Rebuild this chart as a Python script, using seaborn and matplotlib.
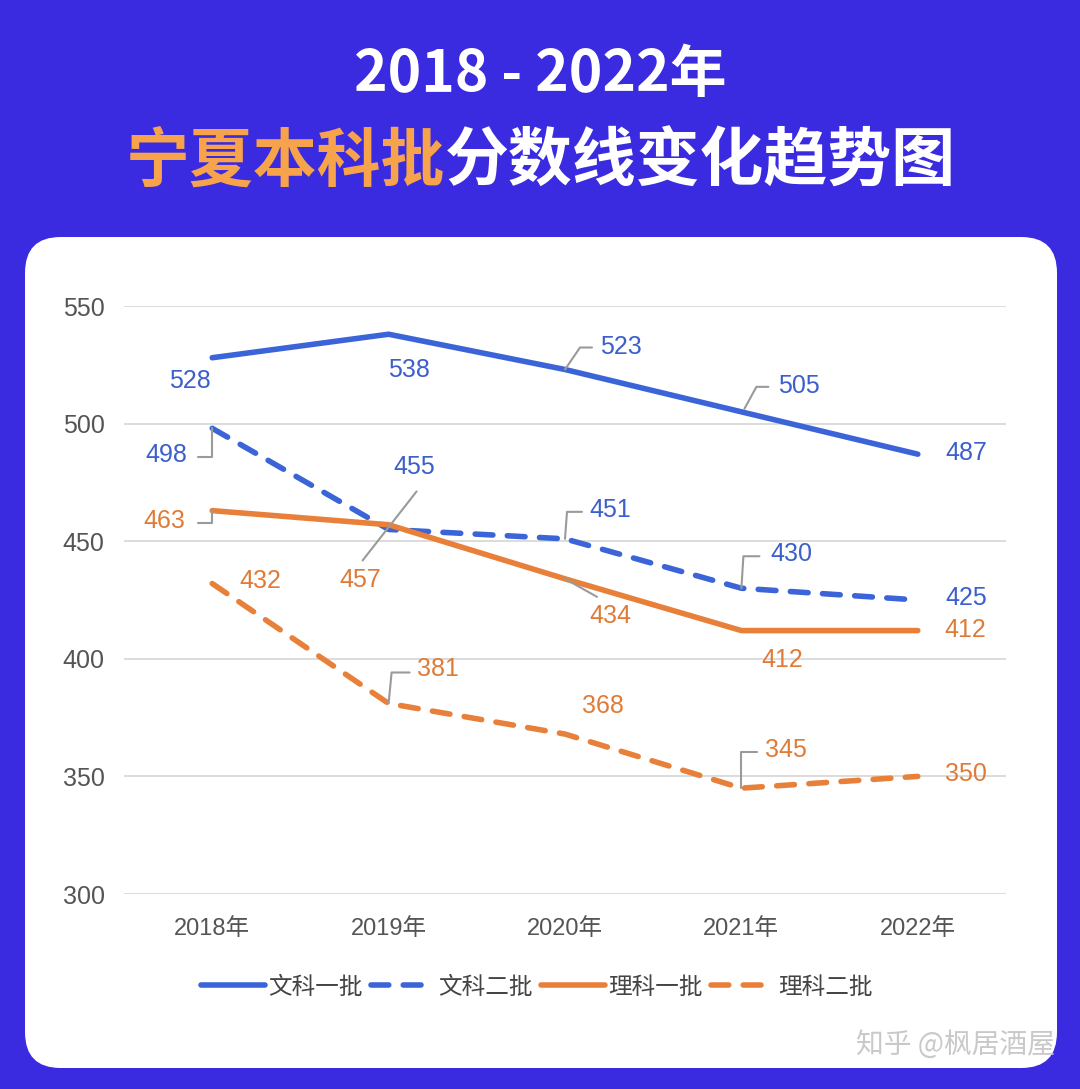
import matplotlib
matplotlib.use("Agg")
import matplotlib.pyplot as plt
from matplotlib.patches import FancyBboxPatch
from matplotlib.lines import Line2D
from matplotlib.transforms import IdentityTransform
import pandas as pd
import seaborn as sns

# data
years = ["2018年", "2019年", "2020年", "2021年", "2022年"]
series = ["文科一批", "文科二批", "理科一批", "理科二批"]
wenke1 = [528, 538, 523, 505, 487]
wenke2 = [498, 455, 451, 430, 425]
like1 = [463, 457, 434, 412, 412]
like2 = [432, 381, 368, 345, 350]
yticks = [300, 350, 400, 450, 500, 550]

df = pd.DataFrame({
    "year": years * 4,
    "score": wenke1 + wenke2 + like1 + like2,
    "series": [s for s in series for _ in years],
})

BLUE = "#3a64d8"
ORANGE = "#e8803a"
BLUE_TXT = "#3b5fcc"
ORANGE_TXT = "#e07b37"
BG = "#3a2be0"

sns.set_style("white")
plt.rcParams["font.family"] = ["Liberation Sans", "Noto Sans CJK SC", "DejaVu Sans"]

fig = plt.figure(figsize=(10.8, 10.89), dpi=100, facecolor=BG)

# white rounded card
card = FancyBboxPatch((25 / 1080, 1 - 1068 / 1089), 1032 / 1080, 831 / 1089,
                      boxstyle="round,pad=0,rounding_size=0.033",
                      transform=fig.transFigure, fc="white", ec="none", zorder=-1)
fig.add_artist(card)

# title
cjk = ["Noto Sans CJK SC", "DejaVu Sans"]
fig.text(0.5, 1 - 75 / 1089, "2018 - 2022年", ha="center", va="center",
         fontsize=41, color="white", fontweight="bold", family=cjk)
fig.text(0.412, 1 - 162 / 1089, "宁夏本科批", ha="right", va="center",
         fontsize=46, color="#f7a34c", fontweight="bold", family=cjk)
fig.text(0.412, 1 - 162 / 1089, "分数线变化趋势图", ha="left", va="center",
         fontsize=46, color="white", fontweight="bold", family=cjk)

ax = fig.add_axes([124 / 1080, 1 - 894 / 1089, 882 / 1080, 588 / 1089])
ax.set_facecolor("none")

sns.lineplot(data=df, x="year", y="score", hue="series", style="series",
             palette={series[0]: BLUE, series[1]: BLUE, series[2]: ORANGE, series[3]: ORANGE},
             dashes={series[0]: "", series[1]: (3.2, 2.6), series[2]: "", series[3]: (3.2, 2.6)},
             linewidth=4, sort=False, legend=False, ax=ax,
             solid_capstyle="round", dash_capstyle="round")
handles = list(ax.lines[:4])

ax.set_xlim(-0.5, 4.5)
ax.set_ylim(300, 550)
ax.set_yticks(yticks)
ax.grid(axis="y", color="#d6d6d6", linewidth=1.2)
ax.set_axisbelow(True)
for s in ax.spines.values():
    s.set_visible(False)
ax.tick_params(axis="both", length=0, colors="#555555")
ax.tick_params(axis="y", labelsize=18, pad=14)
ax.tick_params(axis="x", labelsize=17, pad=17)
ax.set_xlabel("")
ax.set_ylabel("")

# label offsets (pixels, x right / y down) from each data point
offsets = {
    series[0]: [(-22, 23), (20, 36), (56, -23), (58, -26), (49, -1)],
    series[1]: [(-46, 27), (26, -62), (45, -29), (50, -34), (48, -2)],
    series[2]: [(-48, 10), (-28, 55), (45, 37), (41, 29), (47, -1)],
    series[3]: [(48, -3), (49, -34), (38, -28), (45, -38), (48, -2)],
}
values = {series[0]: wenke1, series[1]: wenke2, series[2]: like1, series[3]: like2}
txt_colors = {series[0]: BLUE_TXT, series[1]: BLUE_TXT, series[2]: ORANGE_TXT, series[3]: ORANGE_TXT}

for name in series:
    for i, v in enumerate(values[name]):
        dx, dy = offsets[name][i]
        ax.annotate(str(v), xy=(i, v), xytext=(dx, -dy), textcoords="offset pixels",
                    ha="center", va="center", fontsize=18, color=txt_colors[name])

# gray leader lines: (series, point index, pixel offsets of vertices)
leaders = [
    (series[0], 2, [(0, 0), (15, -22), (27, -22)]),
    (series[0], 3, [(3, -3), (15, -25), (27, -25)]),
    (series[1], 0, [(0, 0), (0, 29), (-14, 29)]),
    (series[1], 1, [(-26, 31), (28, -38)]),
    (series[1], 2, [(0, 0), (2, -27), (17, -27)]),
    (series[1], 3, [(0, 0), (2, -32), (18, -32)]),
    (series[2], 0, [(0, 0), (0, 12), (-14, 12)]),
    (series[2], 2, [(0, 0), (32, 18)]),
    (series[3], 1, [(0, 0), (3, -31), (21, -31)]),
    (series[3], 3, [(0, 0), (0, -36), (16, -36)]),
]
for name, i, pts in leaders:
    px, py = ax.transData.transform((i, values[name][i]))
    xs = [px + a for a, b in pts]
    ys = [py - b for a, b in pts]
    fig.add_artist(Line2D(xs, ys, transform=IdentityTransform(), color="#9a9a9a",
                          linewidth=1.5, zorder=3))

leg = fig.legend(handles, series, loc="center", bbox_to_anchor=(0.497, 1 - 987 / 1089),
                 ncol=4, frameon=False, fontsize=17, handlelength=2.7,
                 handletextpad=0.15, columnspacing=0.35)
for t in leg.get_texts():
    t.set_color("#444444")
    t.set_family(cjk)

fig.text(0.977, 1 - 1045 / 1089, "知乎 @枫居酒屋", ha="right", va="center",
         fontsize=20, color="#c9c9c9", family=cjk)

fig.savefig("out.png", dpi=100, facecolor=BG)
